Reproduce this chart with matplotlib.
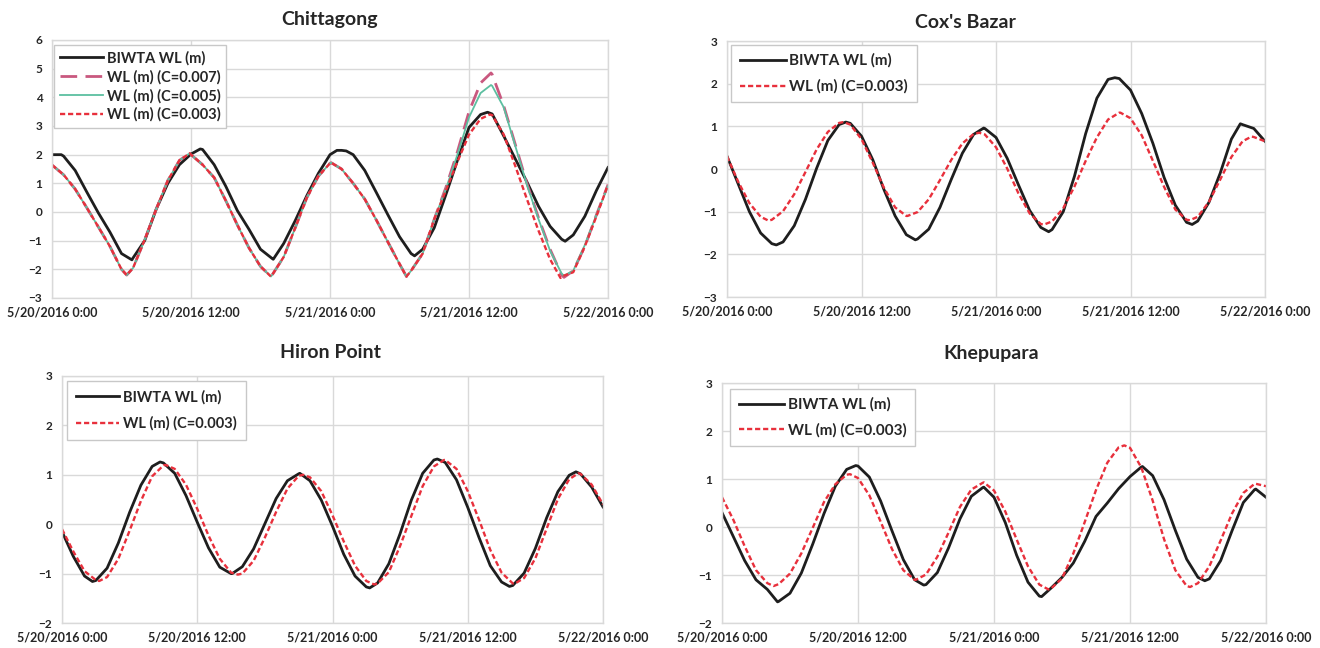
import matplotlib
matplotlib.use("Agg")
import matplotlib.pyplot as plt

# time axis in hours from 5/20/2016 0:00
hours = list(range(49))
tick_hours = [0, 12, 24, 36, 48]
tick_labels = ["5/20/2016 0:00", "5/20/2016 12:00", "5/21/2016 0:00",
               "5/21/2016 12:00", "5/22/2016 0:00"]

# Chittagong (hourly readings + turning points as (hour, value))
chit_obs = [2.0, 1.95, 1.45, 0.7, -0.03, -0.7, -1.45, -1.6, -1.0, 0.1,
            1.0, 1.65, 2.02, 2.18, 1.65, 0.9, 0.05, -0.6, -1.3, -1.62,
            -1.1, -0.3, 0.57, 1.35, 2.0, 2.15, 2.0, 1.45, 0.68, -0.1,
            -0.86, -1.45, -1.3, -0.55, 0.6, 1.8, 2.95, 3.4, 3.42, 2.65,
            1.85, 1.05, 0.2, -0.5, -0.95, -0.8, -0.15, 0.75, 1.55]
chit_obs_turns = [(0.8, 2.0), (6.9, -1.67), (12.8, 2.2), (19.1, -1.65),
                  (24.6, 2.15), (25.4, 2.13), (31.3, -1.53), (37.6, 3.48),
                  (44.3, -1.02)]
chit_c003 = [1.64, 1.3, 0.8, 0.15, -0.52, -1.2, -2.0, -1.95, -0.97, 0.1,
             1.1, 1.8, 2.0, 1.65, 1.2, 0.4, -0.45, -1.25, -1.9, -2.2,
             -1.57, -0.55, 0.5, 1.25, 1.7, 1.5, 1.0, 0.45, -0.28, -1.05,
             -1.81, -2.05, -1.45, -0.25, 0.75, 1.75, 2.7, 3.25, 3.38, 2.7,
             1.6, 0.45, -0.65, -1.65, -2.25, -2.1, -1.2, -0.15, 0.95]
chit_c003_turns = [(6.45, -2.2), (11.9, 2.05), (18.9, -2.25), (24.1, 1.72),
                   (30.6, -2.25), (37.8, 3.4), (43.9, -2.3)]
chit_c007 = chit_c003[:34] + [0.85, 2.1, 3.5, 4.5, 4.8, 3.7, 2.35, 1.0,
                              -0.2, -1.3, -2.2, -2.05, -1.2, -0.1, 0.95]
chit_c007_turns = chit_c003_turns[:5] + [(37.9, 4.85), (44.2, -2.28)]
chit_c005 = chit_c003[:34] + [0.8, 2.0, 3.3, 4.15, 4.4, 3.65, 2.3, 0.95,
                              -0.25, -1.35, -2.15, -2.05, -1.15, -0.1, 0.9]
chit_c005_turns = chit_c003_turns[:5] + [(37.9, 4.43), (44.2, -2.22)]

# Cox's Bazar
cox_obs = [0.3, -0.35, -1.0, -1.5, -1.75, -1.71, -1.33, -0.71, 0.02, 0.67,
           1.04, 1.07, 0.77, 0.22, -0.48, -1.1, -1.54, -1.64, -1.41, -0.9,
           -0.25, 0.37, 0.81, 0.95, 0.74, 0.25, -0.37, -0.97, -1.37, -1.42,
           -1.0, -0.17, 0.83, 1.66, 2.1, 2.12, 1.85, 1.3, 0.6, -0.2,
           -0.85, -1.25, -1.22, -0.78, -0.1, 0.7, 1.04, 0.95, 0.65]
cox_obs_turns = [(4.4, -1.78), (10.6, 1.1), (16.8, -1.66), (22.9, 0.96),
                 (28.7, -1.47), (34.6, 2.14), (41.5, -1.3), (45.8, 1.06)]
cox_c003 = [0.3, -0.3, -0.8, -1.12, -1.19, -0.99, -0.59, -0.07, 0.46, 0.87,
            1.08, 1.04, 0.7, 0.15, -0.44, -0.9, -1.1, -1.01, -0.71, -0.26,
            0.21, 0.6, 0.82, 0.81, 0.51, 0.01, -0.57, -1.04, -1.29, -1.23,
            -0.92, -0.41, 0.19, 0.74, 1.16, 1.32, 1.19, 0.79, 0.19, -0.42,
            -0.95, -1.19, -1.12, -0.77, -0.25, 0.28, 0.65, 0.75, 0.65]
cox_c003_turns = [(3.7, -1.21), (10.4, 1.1), (16.1, -1.1), (22.5, 0.85),
                  (28.3, -1.3), (35.1, 1.32), (41.3, -1.2), (46.8, 0.76)]

# Hiron Point
hiron_obs = [-0.15, -0.65, -1.05, -1.14, -0.89, -0.38, 0.24, 0.79, 1.17, 1.24,
             1.03, 0.58, 0.04, -0.48, -0.87, -1.0, -0.86, -0.5, 0.01, 0.52,
             0.88, 1.02, 0.88, 0.49, -0.04, -0.61, -1.05, -1.27, -1.19, -0.8,
             -0.19, 0.49, 1.03, 1.3, 1.25, 0.9, 0.34, -0.27, -0.84, -1.17,
             -1.24, -0.99, -0.49, 0.13, 0.66, 0.99, 1.02, 0.75, 0.35]
hiron_obs_turns = [(2.7, -1.16), (8.7, 1.26), (15.1, -1.0), (21.1, 1.03),
                   (27.3, -1.29), (33.3, 1.32), (39.7, -1.26), (45.6, 1.06)]
hiron_c003 = [-0.1, -0.55, -0.95, -1.13, -1.07, -0.7, -0.13, 0.47, 0.97, 1.19,
              1.12, 0.8, 0.31, -0.23, -0.7, -0.98, -1.0, -0.74, -0.27, 0.25,
              0.72, 0.98, 0.95, 0.67, 0.18, -0.35, -0.84, -1.15, -1.2, -0.97,
              -0.44, 0.17, 0.77, 1.17, 1.3, 1.12, 0.67, 0.09, -0.52, -0.98,
              -1.2, -1.09, -0.69, -0.09, 0.51, 0.91, 1.02, 0.8, 0.4]
hiron_c003_turns = [(3.3, -1.15), (9.2, 1.2), (15.6, -1.02), (21.4, 1.0),
                    (27.7, -1.22), (33.9, 1.3), (40.2, -1.2), (45.8, 1.03)]

# Khepupara
khep_obs = [0.3, -0.2, -0.7, -1.1, -1.3, -1.55, -1.38, -0.96, -0.36, 0.28,
            0.85, 1.2, 1.27, 1.04, 0.54, -0.08, -0.68, -1.1, -1.2, -0.95,
            -0.43, 0.17, 0.64, 0.82, 0.62, 0.09, -0.59, -1.15, -1.44, -1.28,
            -1.05, -0.75, -0.3, 0.22, 0.5, 0.8, 1.05, 1.25, 1.07, 0.57,
            -0.07, -0.67, -1.05, -1.08, -0.7, -0.08, 0.51, 0.78, 0.62]
khep_obs_turns = [(4.9, -1.56), (11.8, 1.28), (17.8, -1.21), (23.1, 0.83),
                  (28.2, -1.45), (37.1, 1.26), (42.6, -1.12), (47.1, 0.79)]
khep_c003 = [0.62, 0.15, -0.4, -0.9, -1.17, -1.19, -0.97, -0.55, -0.02, 0.52,
             0.89, 1.09, 1.02, 0.66, 0.11, -0.46, -0.9, -1.1, -0.99, -0.62,
             -0.11, 0.42, 0.78, 0.92, 0.76, 0.32, -0.26, -0.82, -1.2, -1.29,
             -1.07, -0.55, 0.1, 0.77, 1.34, 1.66, 1.65, 1.24, 0.55, -0.25,
             -0.9, -1.23, -1.17, -0.82, -0.28, 0.28, 0.71, 0.9, 0.85]
khep_c003_turns = [(4.55, -1.23), (11.3, 1.1), (17.1, -1.1), (23.1, 0.93),
                   (28.8, -1.3), (35.5, 1.7), (41.3, -1.25), (47.1, 0.9)]

plt.rcParams["font.family"] = ["Lato", "DejaVu Sans"]
plt.rcParams["font.weight"] = "bold"
plt.rcParams["lines.solid_joinstyle"] = "round"
plt.rcParams["lines.dash_joinstyle"] = "round"

GRID = "#d9d9d9"
TXT = "#262626"

fig = plt.figure(figsize=(13.2, 6.48), dpi=100)
W, H = 1320.0, 648.0


def series(vals, turns):
    pts = dict(zip(hours, vals))
    pts.update(dict(turns))
    ts = sorted(pts)
    return ts, [pts[t] for t in ts]


def make_ax(l, t, r, b):
    return fig.add_axes([l / W, 1 - b / H, (r - l) / W, (b - t) / H])


def style(ax, ylo, yhi):
    ax.set_xlim(0, 48)
    ax.set_ylim(ylo, yhi)
    ax.set_xticks(tick_hours)
    ax.set_xticklabels(tick_labels)
    ax.set_yticks(range(ylo, yhi + 1))
    ax.tick_params(length=0, colors=TXT)
    ax.tick_params(axis="x", labelsize=9, pad=6)
    ax.tick_params(axis="y", labelsize=8.5, pad=7)
    ax.grid(True, color=GRID, lw=1.0)
    ax.set_axisbelow(True)
    for s in ax.spines.values():
        s.set_color(GRID)
        s.set_linewidth(1.0)
    for lab in ax.get_xticklabels() + ax.get_yticklabels():
        lab.set_fontweight("bold")


def legend(ax, x, top, size, spacing, pad):
    leg = ax.legend(loc="upper left", bbox_to_anchor=(x, top), fontsize=size,
                    handlelength=3.0, handletextpad=0.25, labelspacing=spacing,
                    borderpad=pad, fancybox=False, framealpha=1,
                    edgecolor="#c8c8c8", borderaxespad=0)
    leg.get_frame().set_linewidth(1.0)
    for t in leg.get_texts():
        t.set_color(TXT)


obs_kw = dict(color="#1e1e1e", lw=2.0, label="BIWTA WL (m)")
c3_kw = dict(color="#e8303c", lw=1.7, ls=(0, (2.2, 1.2)), label="WL (m) (C=0.003)")

# Chittagong
ax1 = make_ax(52, 40, 608, 298)
ax1.plot(*series(chit_obs, chit_obs_turns), **obs_kw)
ax1.plot(*series(chit_c007, chit_c007_turns), color="#c9587f", lw=2.0,
         ls=(0, (6, 3)), label="WL (m) (C=0.007)")
ax1.plot(*series(chit_c005, chit_c005_turns), color="#5cbfa0", lw=1.3,
         label="WL (m) (C=0.005)")
ax1.plot(*series(chit_c003, chit_c003_turns), **c3_kw)
style(ax1, -3, 6)
legend(ax1, 0.003, 0.98, 10.5, 0.3, 0.4)

# Cox's Bazar
ax2 = make_ax(727, 41, 1265, 297)
ax2.plot(*series(cox_obs, cox_obs_turns), **obs_kw)
ax2.plot(*series(cox_c003, cox_c003_turns), **c3_kw)
style(ax2, -3, 3)
legend(ax2, 0.008, 0.984, 11, 0.75, 0.55)

# Hiron Point
ax3 = make_ax(62, 376, 603, 623)
ax3.plot(*series(hiron_obs, hiron_obs_turns), **obs_kw)
ax3.plot(*series(hiron_c003, hiron_c003_turns), **c3_kw)
style(ax3, -2, 3)
legend(ax3, 0.009, 0.98, 10.5, 0.85, 0.6)

# Khepupara
ax4 = make_ax(722, 383, 1266, 623)
ax4.plot(*series(khep_obs, khep_obs_turns), **obs_kw)
ax4.plot(*series(khep_c003, khep_c003_turns), **c3_kw)
style(ax4, -2, 3)
legend(ax4, 0.015, 0.975, 11, 0.75, 0.55)

titles = [("Chittagong", 330, 20), ("Cox's Bazar", 965, 22),
          ("Hiron Point", 331, 352), ("Khepupara", 991, 353)]
for name, x, y in titles:
    fig.text(x / W, 1 - y / H, name, ha="center", va="center",
             fontsize=14, fontweight="bold", color=TXT)

fig.savefig("out.png", dpi=100, facecolor="white")
